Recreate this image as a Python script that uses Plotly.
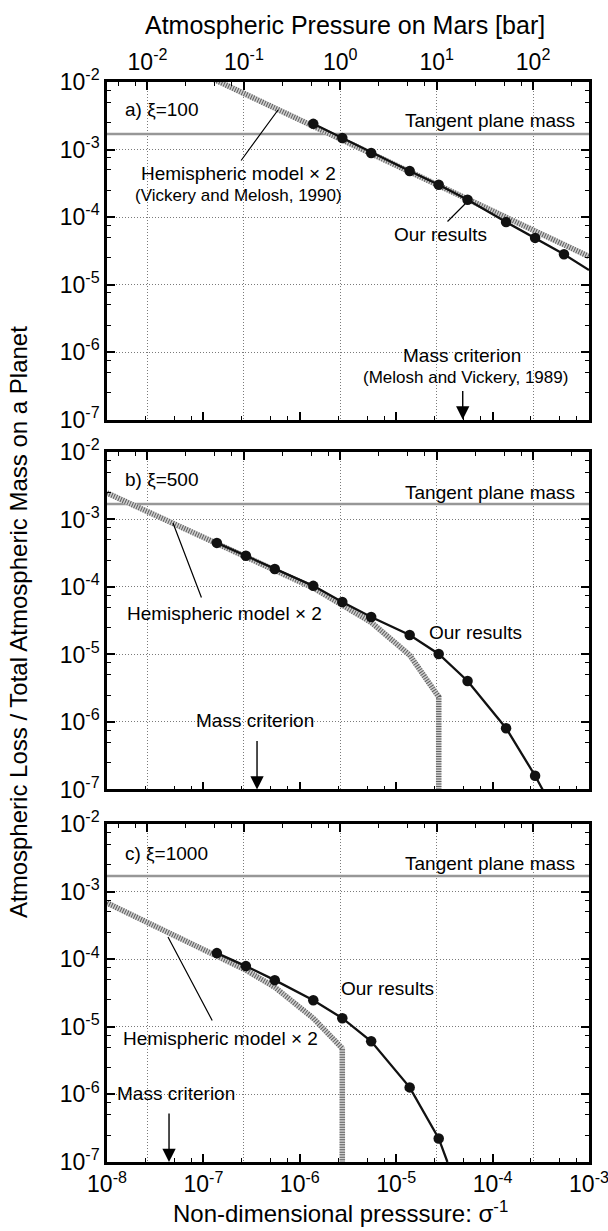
import math
import plotly.graph_objects as go

# ---------------- data ----------------
# non-dimensional pressure sigma^-1 and loss fraction
sigma_a = [1.38e-6, 2.76e-6, 5.5e-6, 1.38e-5, 2.76e-5, 5.5e-5, 1.38e-4, 2.76e-4, 5.5e-4]
loss_a = [2.4e-3, 1.48e-3, 8.9e-4, 4.8e-4, 3.0e-4, 1.8e-4, 8.4e-5, 4.9e-5, 2.8e-5]
tail_a = ([1e-3], [1.64e-5])
hemi_a_sigma = [1e-7, 1e-3]
hemi_a_loss = [1.3e-2, 2.6e-5]

sigma_b = [1.38e-7, 2.76e-7, 5.5e-7, 1.38e-6, 2.76e-6, 5.5e-6, 1.38e-5, 2.76e-5, 5.5e-5, 1.38e-4, 2.76e-4]
loss_b = [4.5e-4, 2.9e-4, 1.85e-4, 1.04e-4, 6.0e-5, 3.6e-5, 1.95e-5, 1.02e-5, 4.05e-6, 8.1e-7, 1.6e-7]
tail_b = ([3.3e-4], [1e-7])
hemi_b_sigma = [1e-8, 1.38e-7, 1.38e-6, 2.76e-6, 5.5e-6, 1.38e-5, 2.76e-5, 2.76e-5]
hemi_b_loss = [2.47e-3, 4.3e-4, 9.7e-5, 5.4e-5, 3.0e-5, 9.8e-6, 2.35e-6, 1e-7]

sigma_c = [1.38e-7, 2.76e-7, 5.5e-7, 1.38e-6, 2.76e-6, 5.5e-6, 1.38e-5, 2.76e-5]
loss_c = [1.23e-4, 7.9e-5, 4.9e-5, 2.47e-5, 1.34e-5, 6.1e-6, 1.27e-6, 2.23e-7]
tail_c = ([3.4e-5], [1e-7])
hemi_c_sigma = [1e-8, 1.38e-7, 2.76e-7, 5.5e-7, 1.38e-6, 2.76e-6, 2.76e-6]
hemi_c_loss = [6.8e-4, 1.07e-4, 6.9e-5, 3.85e-5, 1.34e-5, 4.8e-6, 1e-7]

tangent_plane_mass = 1.7e-3
mass_criterion = {"a": 4.9e-5, "b": 3.6e-7, "c": 4.4e-8}
bar_per_sigma = 10 ** 5.58          # Mars pressure [bar] per unit sigma^-1

x_decades = [1e-8, 1e-7, 1e-6, 1e-5, 1e-4, 1e-3]
x_ticktext = ["10<sup>-8</sup>", "10<sup>-7</sup>", "10<sup>-6</sup>", "10<sup>-5</sup>", "10<sup>-4</sup>", "10<sup>-3</sup>"]
bar_decades = [1e-2, 1e-1, 1e0, 1e1, 1e2]
bar_ticktext = ["10<sup>-2</sup>", "10<sup>-1</sup>", "10<sup>0</sup>", "10<sup>1</sup>", "10<sup>2</sup>"]
y_decades = [1e-7, 1e-6, 1e-5, 1e-4, 1e-3, 1e-2]
y_ticktext = ["10<sup>-7</sup>", "10<sup>-6</sup>", "10<sup>-5</sup>", "10<sup>-4</sup>", "10<sup>-3</sup>", "10<sup>-2</sup>"]

# ---------------- layout helpers ----------------
W, H = 608, 1231
L, R, T, B = 107, 19, 82, 69
PW, PH = W - L - R, H - T - B
FONT = "Liberation Sans, Arial, Helvetica, sans-serif"


def px(x):
    return (x - L) / PW


def py(y):
    return 1 - (y - T) / PH


def minor_vals(lo, hi):
    out = []
    for k in range(lo, hi + 1):
        for m in (2.5, 5, 7.5):
            out.append(m * 10 ** k)
    return out


fig = go.Figure()

panels = [
    ("a", "x3", "y3", "x6", sigma_a, loss_a, tail_a, hemi_a_sigma, hemi_a_loss),
    ("b", "x2", "y2", "x5", sigma_b, loss_b, tail_b, hemi_b_sigma, hemi_b_loss),
    ("c", "x", "y", "x4", sigma_c, loss_c, tail_c, hemi_c_sigma, hemi_c_loss),
]

for name, xa, ya, xtop, sg, ls, tail, hs, hl in panels:
    # tangent plane mass
    fig.add_trace(go.Scatter(x=[x_decades[0], x_decades[-1]], y=[tangent_plane_mass] * 2,
                             mode="lines", line=dict(color="#979797", width=2.4),
                             xaxis=xa, yaxis=ya, hoverinfo="skip"))
    # hemispheric model x 2 (hatched gray band)
    fig.add_trace(go.Scatter(x=hs, y=hl, mode="lines",
                             line=dict(color="#cfcfcf", width=5.5),
                             xaxis=xa, yaxis=ya, hoverinfo="skip"))
    fig.add_trace(go.Scatter(x=hs, y=hl, mode="lines",
                             line=dict(color="#5e5e5e", width=5.5, dash="1px,1.5px"),
                             xaxis=xa, yaxis=ya, hoverinfo="skip"))
    # our results
    fig.add_trace(go.Scatter(x=sg + tail[0], y=ls + tail[1], mode="lines",
                             line=dict(color="#111111", width=2.3),
                             xaxis=xa, yaxis=ya, hoverinfo="skip"))
    fig.add_trace(go.Scatter(x=sg, y=ls, mode="markers",
                             marker=dict(color="#111111", size=10.5),
                             xaxis=xa, yaxis=ya))
    # empty trace to register the top (bar) axis
    fig.add_trace(go.Scatter(x=[], y=[], xaxis=xtop, yaxis=ya, mode="markers"))

tick_common = dict(ticks="inside", ticklen=8, tickwidth=1.6, tickcolor="black",
                   showline=True, linecolor="black", linewidth=2.6, zeroline=False,
                   automargin=False,
                   tickfont=dict(family=FONT, size=23, color="black"))

lk = math.log10(bar_per_sigma)

y_domains = {"y3": [0.6875, 1.0], "y2": [0.34491, 0.65741], "y": [0.0, 0.31296]}

layout = dict(
    width=W, height=H, margin=dict(l=L, r=R, t=T, b=B, autoexpand=False),
    paper_bgcolor="white", plot_bgcolor="white", showlegend=False,
    font=dict(family=FONT, color="black"),
)

x_minor = dict(tickmode="array", tickvals=minor_vals(-8, -4), ticks="inside", ticklen=4,
               tickwidth=1.3, tickcolor="black", showgrid=False)
bar_minor = dict(tickmode="array", tickvals=minor_vals(-3, 2), ticks="inside", ticklen=4,
                 tickwidth=1.3, tickcolor="black", showgrid=False)
y_minor = dict(tickmode="array", tickvals=minor_vals(-8, -3), ticks="inside", ticklen=4,
               tickwidth=1.3, tickcolor="black", showgrid=False)

for xid, yid, show in (("xaxis", "y", True), ("xaxis2", "y2", False), ("xaxis3", "y3", False)):
    layout[xid] = dict(type="log", range=[-8, -3], anchor=yid, domain=[0, 1],
                       tickmode="array", tickvals=x_decades, ticktext=x_ticktext,
                       showticklabels=show, showgrid=False, minor=x_minor, mirror=False,
                       ticklabeloverflow="allow", **tick_common)

for xid, over, yid, show in (("xaxis4", "x", "y", False), ("xaxis5", "x2", "y2", False),
                             ("xaxis6", "x3", "y3", True)):
    layout[xid] = dict(type="log", range=[-8 + lk, -3 + lk], anchor=yid, overlaying=over,
                       side="top", tickmode="array", tickvals=bar_decades,
                       ticktext=bar_ticktext, showticklabels=show,
                       showgrid=True, gridcolor="#7a7a7a", gridwidth=1, griddash="1px,2px",
                       minor=bar_minor, mirror=False, **tick_common)

for yid, xid in (("yaxis", "x"), ("yaxis2", "x2"), ("yaxis3", "x3")):
    layout[yid] = dict(type="log", range=[-7, -2], anchor=xid, domain=y_domains[yid[0] + yid[5:]],
                       tickmode="array", tickvals=y_decades, ticktext=y_ticktext,
                       showgrid=True, gridcolor="#7a7a7a", gridwidth=1, griddash="1px,2px",
                       minor=y_minor, mirror="ticks", **tick_common)

fig.update_layout(**layout)

ann = []


def text(t, x, y, size=19, xanchor="center", angle=0):
    ann.append(dict(text=t, x=px(x), y=py(y), xref="paper", yref="paper", showarrow=False,
                    xanchor=xanchor, yanchor="middle", textangle=angle,
                    font=dict(family=FONT, size=size, color="black")))


def leader(x, y, ax, ay):
    ann.append(dict(text="", x=px(x), y=py(y), xref="paper", yref="paper", showarrow=True,
                    arrowhead=0, arrowwidth=1.2, arrowcolor="black", ax=ax, ay=ay))


def down_arrow(sig, xref, yref, length):
    ann.append(dict(text="", x=math.log10(sig), y=-7, xref=xref, yref=yref, showarrow=True,
                    arrowhead=2, arrowsize=1.9, arrowwidth=1.4, arrowcolor="black",
                    ax=0, ay=-length))


# axis titles
text("Atmospheric Pressure on Mars [bar]", 345, 25, size=25)
text("Non-dimensional presssure: σ<sup>-1</sup>", 340, 1212, size=24)
text("Atmospheric Loss / Total Atmospheric Mass on a Planet", 18, 622, size=24, angle=-90)

# panel a
text("a) ξ=100", 123, 110, xanchor="left")
text("Tangent plane mass", 577, 121, xanchor="right")
text("Hemispheric model × 2", 238, 174)
text("(Vickery and Melosh, 1990)", 238, 195, size=17)
leader(278, 110, -38, 52)
text("Our results", 440, 235)
leader(465, 204, -19, 19)
text("Mass criterion", 462, 355)
text("(Melosh and Vickery, 1989)", 465, 377, size=17)
down_arrow(mass_criterion["a"], "x3", "y3", 30)

# panel b
text("b) ξ=500", 123, 480, xanchor="left")
text("Tangent plane mass", 577, 492, xanchor="right")
text("Hemispheric model × 2", 224, 613)
leader(173, 523, 29, 76)
text("Our results", 475, 632)
text("Mass criterion", 255, 720)
down_arrow(mass_criterion["b"], "x2", "y2", 50)

# panel c
text("c) ξ=1000", 123, 853, xanchor="left")
text("Tangent plane mass", 577, 863, xanchor="right")
text("Hemispheric model × 2", 220, 1038)
leader(168, 937, 45, 85)
text("Our results", 387, 988)
text("Mass criterion", 176, 1093)
down_arrow(mass_criterion["c"], "x", "y", 50)

fig.update_layout(annotations=ann)
fig.write_html("out.html")
